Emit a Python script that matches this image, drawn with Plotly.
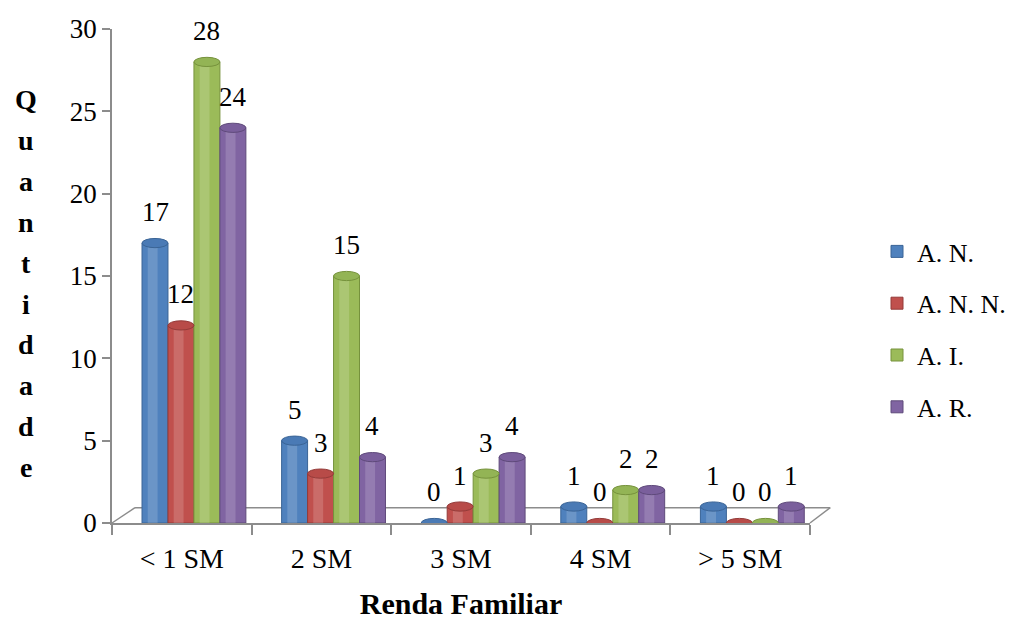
import plotly.graph_objects as go

# Renda familiar categories and counts per group
categorias = ["< 1 SM", "2 SM", "3 SM", "4 SM", "> 5 SM"]
series_nomes = ["A. N.", "A. N. N.", "A. I.", "A. R."]
a_n = [17, 5, 0, 1, 1]
a_n_n = [12, 3, 1, 0, 0]
a_i = [28, 15, 3, 2, 0]
a_r = [24, 4, 4, 2, 1]
cores = ["#4F81BD", "#C0504D", "#9BBB59", "#8064A2"]
bordas = ["#3A6496", "#943B39", "#76923C", "#5F4A7B"]
topos = ["#4A7AB5", "#B84B48", "#93B455", "#7A5F9C"]
y_ticks = [0, 5, 10, 15, 20, 25, 30]

valores = [a_n, a_n_n, a_i, a_r]

SERIF = "Liberation Serif"
GRID = "#8C8C8C"

bar_w = 0.186
start = -0.285   # left edge of the first bar relative to category center
cap = 0.28       # half height of the elliptical cap, in data units

fig = go.Figure()

for k, (nome, vals) in enumerate(zip(series_nomes, valores)):
    off = start + k * bar_w
    fig.add_trace(go.Bar(
        x=categorias,
        y=vals,
        name=nome,
        width=bar_w,
        offset=off,
        marker=dict(color=cores[k], line=dict(color=bordas[k], width=1)),
        legendgroup=nome,
    ))
    # soft highlight strip giving the cylinder a rounded look
    fig.add_trace(go.Bar(
        x=categorias,
        y=vals,
        width=bar_w * 0.38,
        offset=off + bar_w * 0.22,
        marker=dict(color="rgba(255,255,255,0.16)", line=dict(width=0)),
        showlegend=False,
        hoverinfo="skip",
        legendgroup=nome,
    ))
    for i, v in enumerate(vals):
        x_left = i + off
        x_right = x_left + bar_w
        # elliptical top of each cylinder
        fig.add_shape(
            type="circle", xref="x", yref="y",
            x0=x_left, x1=x_right, y0=v - cap, y1=v + cap,
            fillcolor=topos[k], line=dict(color=bordas[k], width=1),
        )
        # value label
        fig.add_annotation(
            x=i + start + (k + 0.5) * bar_w,
            y=v,
            text=str(v),
            showarrow=False,
            yshift=31,
            font=dict(family=SERIF, size=27, color="#000000"),
        )

# floor of the 3D plot area
floor_y = 0.031
fig.add_shape(type="line", xref="paper", yref="paper", x0=0.0, y0=0.0, x1=0.033, y1=floor_y,
              line=dict(color=GRID, width=1.5), layer="below")
fig.add_shape(type="line", xref="paper", yref="paper", x0=0.033, y0=floor_y, x1=1.029, y1=floor_y,
              line=dict(color=GRID, width=1.5), layer="below")
fig.add_shape(type="line", xref="paper", yref="paper", x0=1.0, y0=0.0, x1=1.029, y1=floor_y,
              line=dict(color=GRID, width=1.5), layer="below")

# stacked vertical axis title
titulo_y = "Quantidade"
for j, ch in enumerate(titulo_y):
    py = 100 + 40.8 * j
    fig.add_annotation(
        xref="paper", yref="paper",
        x=(26 - 112) / 698, y=(523 - py) / 494,
        text=ch, showarrow=False,
        font=dict(family=SERIF, size=28, color="#000000", weight="bold"),
        xanchor="center", yanchor="middle",
    )

fig.update_layout(
    width=1024, height=621,
    margin=dict(l=112, r=214, t=29, b=98, autoexpand=False),
    paper_bgcolor="white",
    plot_bgcolor="white",
    barmode="overlay",
    font=dict(family=SERIF, size=26, color="#000000"),
    showlegend=True,
    legend=dict(
        x=(877 - 112) / 698, y=(523 - 228) / 494,
        xanchor="left", yanchor="top",
        font=dict(family=SERIF, size=26, color="#000000"),
        tracegroupgap=15,
        itemwidth=30,
        bgcolor="rgba(0,0,0,0)",
    ),
    xaxis=dict(
        type="category",
        range=[-0.5, 4.5],
        showline=True, linecolor=GRID, linewidth=1.5,
        ticks="outside", ticklen=10, tickcolor=GRID, tickwidth=1.5,
        tickson="boundaries",
        ticklabelstandoff=10,
        showgrid=False, zeroline=False,
        tickfont=dict(family=SERIF, size=28, color="#000000"),
        title=dict(text="<b>Renda Familiar</b>", font=dict(family=SERIF, size=30, color="#000000"),
                   standoff=20),
    ),
    yaxis=dict(
        range=[0, 30],
        tickvals=y_ticks,
        showline=True, linecolor=GRID, linewidth=1.5,
        ticks="outside", ticklen=8, tickcolor=GRID, tickwidth=1.5,
        showgrid=False, zeroline=False,
        tickfont=dict(family=SERIF, size=27, color="#000000"),
    ),
)

fig.write_html("out.html")
